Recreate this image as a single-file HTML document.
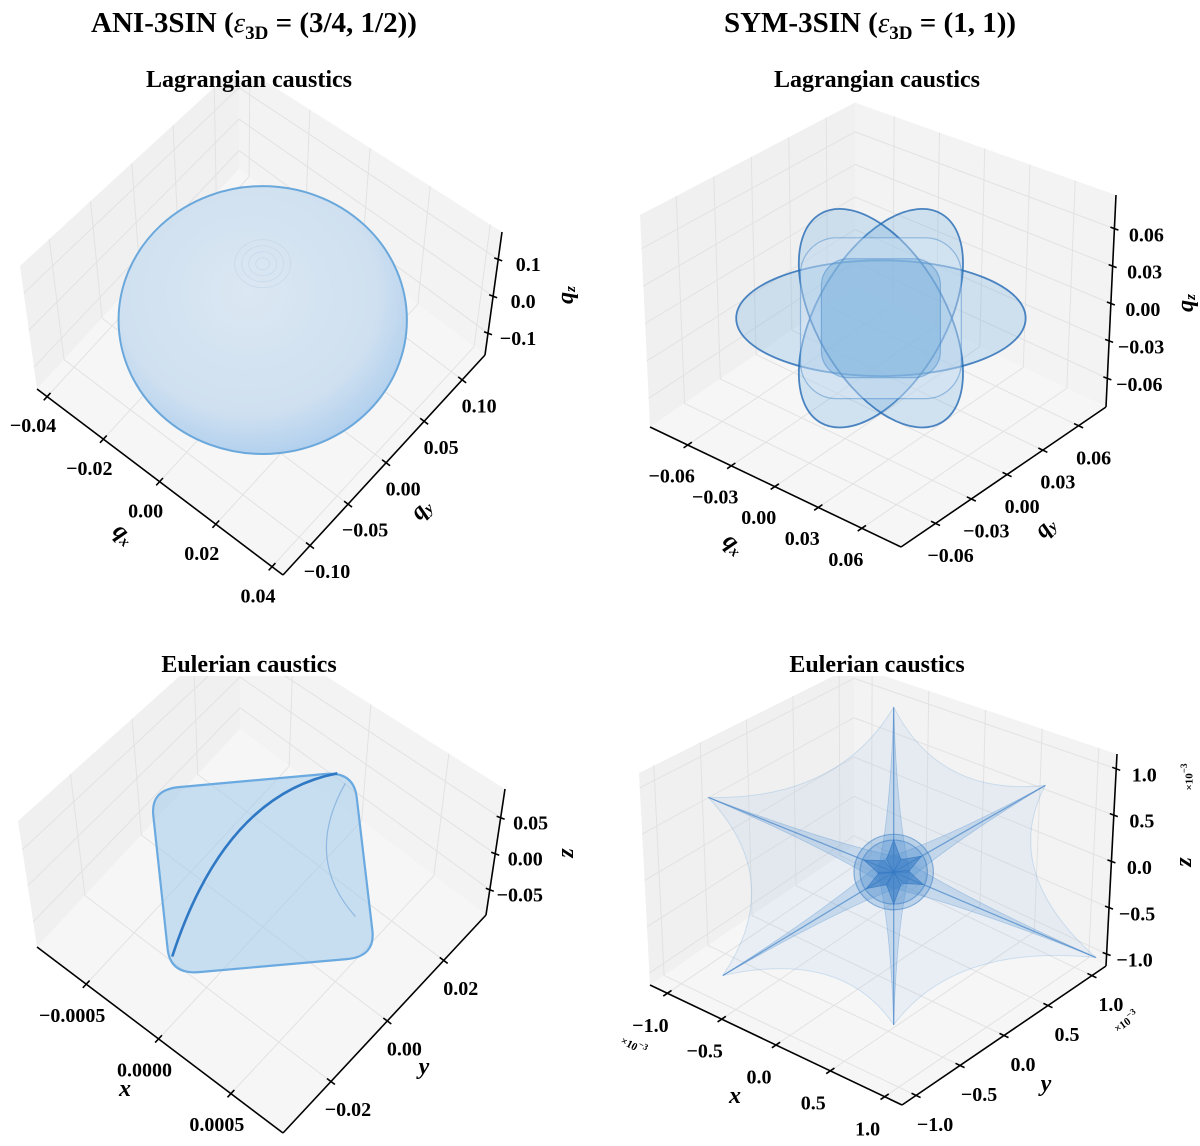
<!DOCTYPE html>
<html><head><meta charset="utf-8">
<style>
html,body{margin:0;padding:0;background:#fff;}
svg{display:block;font-family:"Liberation Serif",serif;}
.tick{font-size:20px;font-weight:bold;fill:#000;}
.ttl{font-size:29px;font-weight:bold;}
.sub{font-size:24px;font-weight:bold;}
.alab{font-size:24px;font-weight:bold;font-style:italic;}
</style></head>
<body>
<svg id="fig" width="1200" height="1146" viewBox="0 0 1200 1146" xmlns="http://www.w3.org/2000/svg">
<defs>
<clipPath id="c0"><rect x="0" y="80" width="600" height="540"/></clipPath>
<clipPath id="c1"><rect x="600" y="80" width="600" height="540"/></clipPath>
<clipPath id="c2"><rect x="0" y="676" width="600" height="470"/></clipPath>
<clipPath id="c3"><rect x="600" y="676" width="600" height="470"/></clipPath>
<radialGradient id="sphg" cx="0.45" cy="0.4" r="0.6">
<stop offset="0" stop-color="#dbe7f2"/><stop offset="0.75" stop-color="#cfe0f0"/><stop offset="1" stop-color="#b3d1ee"/>
</radialGradient>
</defs>
<g id="layer"></g>
<text class="ttl" x="254" y="32" text-anchor="middle">ANI-3SIN (<tspan font-style="italic" font-weight="normal">ε</tspan><tspan font-size="19" dy="7">3D</tspan><tspan dy="-7"> = (3/4, 1/2))</tspan></text>
<text class="ttl" x="870" y="32" text-anchor="middle">SYM-3SIN (<tspan font-style="italic" font-weight="normal">ε</tspan><tspan font-size="19" dy="7">3D</tspan><tspan dy="-7"> = (1, 1))</tspan></text>
<text class="sub" x="249" y="87" text-anchor="middle">Lagrangian caustics</text>
<text class="sub" x="877" y="87" text-anchor="middle">Lagrangian caustics</text>
<text class="sub" x="249" y="672" text-anchor="middle">Eulerian caustics</text>
<text class="sub" x="877" y="672" text-anchor="middle">Eulerian caustics</text>
</svg>
<script>
// ---------- data ----------
const tlXTicks=[-0.04,-0.02,0.00,0.02,0.04];
const tlYTicks=[-0.10,-0.05,0.00,0.05,0.10];
const tlZTicks=[-0.1,0.0,0.1];
const tlXRange=[-0.0436,0.0439], tlYRange=[-0.1355,0.13], tlZRange=[-0.159,0.174];
const sphereCenter=[0,0,-0.02];
const sphereRadii=[0.0409,0.038];

const trTicks=[-0.06,-0.03,0.00,0.03,0.06];
const trXRange=[-0.086,0.087], trYRange=[-0.089,0.083], trZRange=[-0.083,0.087];
const lobeMajor=[0.090,0.075,0.075];
const lobeMinor=[0.036,0.040,0.040];
const lobeAngle=[0,-60,60];
const innerCoreHalf=[0.050,0.037];

const blXTicks=[-0.0005,0.0000,0.0005];
const blYTicks=[-0.02,0.00,0.02];
const blZTicks=[-0.05,0.00,0.05];
const blXRange=[-0.00084,0.00086], blYRange=[-0.037,0.035], blZRange=[-0.085,0.09];
const blCornerU=[-6.2,5.0,6.2,-5.1]; // in 1e-4, screen-plane
const blCornerV=[-4.6,-5.6,4.6,5.6];
const blFoldU=[-5.0,-2.1,4.1];
const blFoldV=[4.6,-4.3,-5.5];

const brTicks=[-1.0,-0.5,0.0,0.5,1.0];
const brXRange=[-1.16,1.16], brYRange=[-1.16,1.16], brZRange=[-1.13,1.16];
const starCenter=[0.06,0.1,0];
const armU=[0,1.26,1.68,0,-1.42,-1.54];   // ×10^-3
const armV=[-1.37,-0.72,0.71,1.27,0.86,-0.62];
const coreRadius=[0.33,0.28];

// ---------- helpers ----------
const NS="http://www.w3.org/2000/svg";
const layer=document.getElementById('layer');
function el(tag,attrs,parent){const e=document.createElementNS(NS,tag);for(const k in attrs)e.setAttribute(k,attrs[k]);(parent||layer).appendChild(e);return e;}
function fmt(v,d){let s=Math.abs(v)<1e-12?(0).toFixed(d):v.toFixed(d);return s.replace('-','−');}

function makeAxes(cfg){
  const ex=[cfg.B[0]-cfg.X0[0],cfg.B[1]-cfg.X0[1]];
  const ey=[cfg.Y1[0]-cfg.B[0],cfg.Y1[1]-cfg.B[1]];
  const dx=cfg.ez[0],h=-cfg.ez[1],k=cfg.k;
  const [x0,x1]=cfg.xr,[y0,y1]=cfg.yr,[z0,z1]=cfg.zr;
  function P(x,y,z){
    const u=(x-x0)/(x1-x0),v=(y-y0)/(y1-y0),w=(z-z0)/(z1-z0);
    const fx=cfg.X0[0]+u*ex[0]+v*ey[0], fy=cfg.X0[1]+u*ex[1]+v*ey[1];
    const vx=(1-u)*(1-v)*(-dx)+u*v*dx;
    const vy=(1-u)*(1-v)*(-h)+u*(1-v)*(-h)+u*v*(-h)+(1-u)*v*(-k*h);
    return [fx+w*vx,fy+w*vy];
  }
  const pxPer=Math.hypot(ex[0],ex[1])/(x1-x0);
  return {P,ex,ey,pxPer};
}

function drawPanel(cfg,g){
  const A=makeAxes(cfg);const P=A.P;
  const [x0,x1]=cfg.xr,[y0,y1]=cfg.yr,[z0,z1]=cfg.zr;
  const poly=(pts)=>pts.map(p=>p[0].toFixed(1)+','+p[1].toFixed(1)).join(' ');
  let e;
  e=el('polygon',{points:poly([P(x0,y0,z0),P(x0,y1,z0),P(x0,y1,z1),P(x0,y0,z1)]),fill:'#f0f0f0'},g);
  
  e=el('polygon',{points:poly([P(x0,y1,z0),P(x1,y1,z0),P(x1,y1,z1),P(x0,y1,z1)]),fill:'#f3f3f3'},g);
  
  e=el('polygon',{points:poly([P(x0,y0,z0),P(x1,y0,z0),P(x1,y1,z0),P(x0,y1,z0)]),fill:'#f6f6f6'},g);
  
  const gs={stroke:'#e2e2e2','stroke-width':1};
  const line=(a,b,st,nm)=>{const l=el('line',Object.assign({x1:a[0],y1:a[1],x2:b[0],y2:b[1]},st),g);return l;};
  cfg.xt.forEach(t=>{line(P(t,y0,z0),P(t,y1,z0),gs,'grid-line');line(P(t,y1,z0),P(t,y1,z1),gs,'grid-line');});
  cfg.yt.forEach(t=>{line(P(x1,t,z0),P(x0,t,z0),gs,'grid-line');line(P(x0,t,z0),P(x0,t,z1),gs,'grid-line');});
  cfg.zt.forEach(t=>{line(P(x0,y0,t),P(x0,y1,t),gs,'grid-line');line(P(x0,y1,t),P(x1,y1,t),gs,'grid-line');});
  const ax={stroke:'#000','stroke-width':1.6};
  line(P(x0,y0,z0),P(x1,y0,z0),ax,'x-axis');
  line(P(x1,y0,z0),P(x1,y1,z0),ax,'y-axis');
  line(P(x1,y1,z0),P(x1,y1,z1),ax,'z-axis');
  const n=(v)=>{const L=Math.hypot(v[0],v[1]);return [v[0]/L,v[1]/L];};
  const uy=n(A.ey),ux=n(A.ex);
  cfg.xt.forEach(t=>{const p=P(t,y0,z0);line([p[0]-uy[0]*5,p[1]-uy[1]*5],[p[0]+uy[0]*5,p[1]+uy[1]*5],ax,'x-tick');
    const tx=el('text',{x:p[0]+cfg.xo[0],y:p[1]+cfg.xo[1],class:'tick','text-anchor':'middle','dominant-baseline':'middle'},g);tx.textContent=fmt(t,cfg.xd);
    });
  cfg.yt.forEach(t=>{const p=P(x1,t,z0);line([p[0]-ux[0]*5,p[1]-ux[1]*5],[p[0]+ux[0]*5,p[1]+ux[1]*5],ax,'y-tick');
    const tx=el('text',{x:p[0]+cfg.yo[0],y:p[1]+cfg.yo[1],class:'tick','text-anchor':'middle','dominant-baseline':'middle'},g);tx.textContent=fmt(t,cfg.yd);
    });
  cfg.zt.forEach(t=>{const p=P(x1,y1,t);line([p[0]-4,p[1]-1.5],[p[0]+4,p[1]+1.5],ax,'z-tick');
    const tx=el('text',{x:p[0]+cfg.zo[0],y:p[1]+cfg.zo[1],class:'tick','text-anchor':'middle','dominant-baseline':'middle'},g);tx.textContent=fmt(t,cfg.zd);
    });
  cfg.labels.forEach(L=>{
    const t=el('text',{x:L.x,y:L.y,class:'alab','text-anchor':'middle','dominant-baseline':'middle',transform:`rotate(${L.r} ${L.x} ${L.y})`},g);
    
    const a=el('tspan',{},t);a.textContent=L.t;
    if(L.s){const b=el('tspan',{'font-size':15,dy:5},t);b.textContent=L.s;}
  });
  return A;
}

function grp(clip,name){const g=el('g',{'clip-path':`url(#${clip})`});return g;}

// ---------- panel 1 ----------
const g0=grp('c0','ani-lagrangian-panel');
const A0=drawPanel({X0:[37,389],B:[283,575],Y1:[485,355],ez:[17,-123],k:0.85,
  xr:tlXRange,yr:tlYRange,zr:tlZRange,xt:tlXTicks,yt:tlYTicks,zt:tlZTicks,
  xd:2,yd:2,zd:1,xo:[-14,31],yo:[17,28],zo:[30,7],
  labels:[{x:123,y:535,r:45,t:'q',s:'x',name:'qx-axis-title'},{x:422,y:510,r:-45,t:'q',s:'y',name:'qy-axis-title'},{x:567,y:295,r:-90,t:'q',s:'z',name:'qz-axis-title'}]},g0);
{const c=A0.P(...sphereCenter);
 const s=el('ellipse',{cx:c[0],cy:c[1],rx:sphereRadii[0]*A0.pxPer,ry:sphereRadii[1]*A0.pxPer,fill:'url(#sphg)',stroke:'#6aa8dc','stroke-width':2},g0);
 
 for(let i=1;i<=4;i++){const r=el('ellipse',{cx:c[0],cy:c[1]-sphereRadii[1]*A0.pxPer*0.42,rx:i*7,ry:i*6,fill:'none',stroke:'#c6d8ea','stroke-width':0.7},g0);
  }
}

// ---------- panel 2 ----------
const g1=grp('c1','sym-lagrangian-panel');
const A1=drawPanel({X0:[650,427],B:[901,547],Y1:[1106,407],ez:[10,-212],k:0.87,
  xr:trXRange,yr:trYRange,zr:trZRange,xt:trTicks,yt:trTicks,zt:trTicks,
  xd:2,yd:2,zd:2,xo:[-16,33],yo:[15,34],zo:[32,8],
  labels:[{x:733,y:545,r:45,t:'q',s:'x',name:'qx-axis-title'},{x:1046,y:528,r:-45,t:'q',s:'y',name:'qy-axis-title'},{x:1187,y:303,r:-90,t:'q',s:'z',name:'qz-axis-title'}]},g1);
{const c=A1.P(0,0,0);const k=A1.pxPer;
 lobeMajor.forEach((m,i)=>{
  const e=el('ellipse',{cx:c[0],cy:c[1]+4,rx:m*k,ry:lobeMinor[i]*k,transform:`rotate(${lobeAngle[i]} ${c[0]} ${c[1]+4})`,fill:'rgba(100,165,220,0.26)',stroke:'rgba(35,105,180,0.8)','stroke-width':1.8},g1);
  
 });
 innerCoreHalf.forEach((hh,i)=>{const w=hh*k;
  const r=el('rect',{x:c[0]-w,y:c[1]+4-w,width:2*w,height:2*w,rx:w*0.45,fill:i?'rgba(80,150,210,0.28)':'rgba(215,230,244,0.4)',stroke:'rgba(60,130,200,0.45)','stroke-width':1.2},g1);
  });
}

// ---------- panel 3 ----------
const g2=grp('c2','ani-eulerian-panel');
const A2=drawPanel({X0:[37,947],B:[283,1133],Y1:[486,915],ez:[19,-126],k:0.85,
  xr:blXRange,yr:blYRange,zr:blZRange,xt:blXTicks,yt:blYTicks,zt:blZTicks,
  xd:4,yd:2,zd:2,xo:[-14,33],yo:[17,30],zo:[30,7],
  labels:[{x:125,y:1090,r:0,t:'x',name:'x-axis-title'},{x:424,y:1068,r:0,t:'y',name:'y-axis-title'},{x:567,y:853,r:-90,t:'z',name:'z-axis-title'}]},g2);
{const c=A2.P(0,0,0);const k=A2.pxPer*1e-4;
 const pt=(i)=>[c[0]+blCornerU[i]*k,c[1]+5+blCornerV[i]*k];
 const q=[0,1,2,3].map(pt);
 const mix=(a,b,t)=>[a[0]+(b[0]-a[0])*t,a[1]+(b[1]-a[1])*t];
 let d='';
 for(let i=0;i<4;i++){const a=q[i],b=q[(i+1)%4],pr=q[(i+3)%4];
  const s=mix(pr,a,0.86),e=mix(a,b,0.14);
  d+=(i?'L':'M')+s[0].toFixed(1)+','+s[1].toFixed(1)+' Q'+a[0].toFixed(1)+','+a[1].toFixed(1)+' '+e[0].toFixed(1)+','+e[1].toFixed(1)+' ';}
 d+='Z';
 const s=el('path',{d,fill:'rgba(160,200,235,0.55)',stroke:'#6aaae0','stroke-width':2.2},g2);
 
 const f=(i)=>[c[0]+blFoldU[i]*k,c[1]+5+blFoldV[i]*k];
 const a=f(0),b=f(1),e2=f(2);
 const fold=el('path',{d:`M${a[0]},${a[1]} Q${b[0]},${b[1]} ${e2[0]},${e2[1]}`,fill:'none',stroke:'#2f78c4','stroke-width':2.6},g2);
 
 const lite=el('path',{d:`M${q[2][0]-20},${q[2][1]-40} Q${c[0]+40},${c[1]-10} ${e2[0]+8},${e2[1]+10}`,fill:'none',stroke:'rgba(90,150,210,0.5)','stroke-width':1.2},g2);
 
}

// ---------- panel 4 ----------
const g3=grp('c3','sym-eulerian-panel');
const A3=drawPanel({X0:[650,985],B:[902,1105],Y1:[1106,966],ez:[11,-212],k:0.85,
  xr:brXRange,yr:brYRange,zr:brZRange,xt:brTicks,yt:brTicks,zt:brTicks,
  xd:1,yd:1,zd:1,xo:[-17,34],yo:[19,31],zo:[28,8],
  labels:[{x:735,y:1097,r:0,t:'x',name:'x-axis-title'},{x:1046,y:1085,r:0,t:'y',name:'y-axis-title'},{x:1185,y:862,r:-90,t:'z',name:'z-axis-title'}]},g3);
{const c=A3.P(...starCenter);const k=A3.pxPer;
 const tip=(i)=>[c[0]+armU[i]*k,c[1]+armV[i]*k];
 let d='';
 for(let i=0;i<armU.length;i++){const a=tip(i),b=tip((i+1)%armU.length);
  const cp=[c[0]+0.3*(a[0]+b[0]-2*c[0]),c[1]+0.3*(a[1]+b[1]-2*c[1])];
  d+=(i?'':'M'+a[0].toFixed(1)+','+a[1].toFixed(1))+' Q'+cp[0].toFixed(1)+','+cp[1].toFixed(1)+' '+b[0].toFixed(1)+','+b[1].toFixed(1);}
 const env=el('path',{d:d+'Z',fill:'rgba(130,180,228,0.12)',stroke:'rgba(120,170,220,0.28)','stroke-width':1},g3);
 
 for(let i=0;i<armU.length;i++){const t=tip(i);const dx=t[0]-c[0],dy=t[1]-c[1];const L=Math.hypot(dx,dy);const nx=-dy/L,ny=dx/L;const w=16;
  const m1=[c[0]+0.35*dx+nx*3,c[1]+0.35*dy+ny*3],m2=[c[0]+0.35*dx-nx*3,c[1]+0.35*dy-ny*3];
  const p=el('path',{d:`M${c[0]+nx*w},${c[1]+ny*w} Q${m1[0]},${m1[1]} ${t[0]},${t[1]} Q${m2[0]},${m2[1]} ${c[0]-nx*w},${c[1]-ny*w}Z`,fill:'rgba(90,150,212,0.24)',stroke:'rgba(80,140,205,0.35)','stroke-width':0.8},g3);
  
  const ln=el('line',{x1:c[0],y1:c[1],x2:t[0],y2:t[1],stroke:'rgba(50,120,195,0.6)','stroke-width':1.3},g3);
  }
 coreRadius.forEach((r,i)=>{const cc=el('ellipse',{cx:c[0],cy:c[1],rx:r*k,ry:r*k*0.95,fill:'rgba(80,145,208,0.28)',stroke:'rgba(60,125,195,0.55)','stroke-width':1.2},g3);
  });
 let sd='';
 for(let i=0;i<armU.length;i++){const t=tip(i);const dx=t[0]-c[0],dy=t[1]-c[1];
  const R=coreRadius[1]*k*0.95;const a1=Math.atan2(dy,dx);
  const o=[c[0]+Math.cos(a1)*R,c[1]+Math.sin(a1)*R];
  const a2=a1+Math.PI/6;const ii=[c[0]+Math.cos(a2)*R*0.45,c[1]+Math.sin(a2)*R*0.45];
  const a0=a1-Math.PI/6;const i0=[c[0]+Math.cos(a0)*R*0.45,c[1]+Math.sin(a0)*R*0.45];
  sd+=`M${c[0]},${c[1]} L${i0[0]},${i0[1]} L${o[0]},${o[1]} L${ii[0]},${ii[1]}Z `;}
 const st=el('path',{d:sd,fill:'rgba(45,115,192,0.5)',stroke:'rgba(45,115,192,0.65)','stroke-width':0.8},g3);
 
 const sc=[[633,1047,28,'x-scale-factor'],[1127,1023,-35,'y-scale-factor'],[1190,777,-90,'z-scale-factor']];
 sc.forEach(s=>{const t=el('text',{x:s[0],y:s[1],'font-size':11,'font-weight':'bold','text-anchor':'middle','dominant-baseline':'middle',transform:`rotate(${s[2]} ${s[0]} ${s[1]})`},layer);
  
  t.textContent='×10';const e=el('tspan',{dy:-5,'font-size':9},t);e.textContent='−3';});
}
</script>
</body></html>
